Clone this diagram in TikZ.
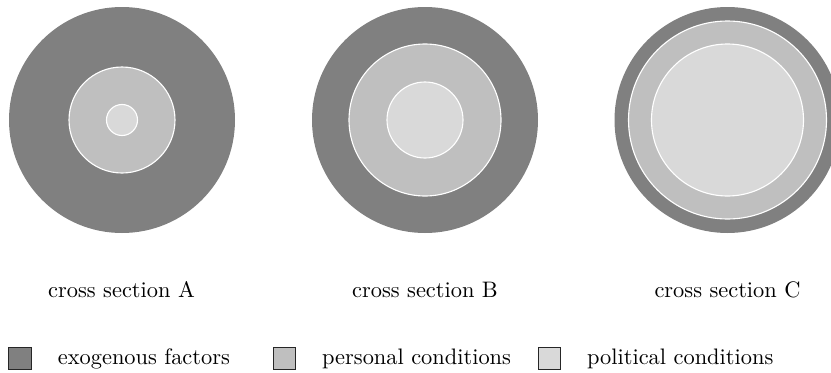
\documentclass[tikz,border=0pt]{standalone}
\begin{document}
\begin{tikzpicture}[x=0.4464pt,y=-0.4464pt,
  exo/.style={fill=black!50},
  pers/.style={fill=black!25,draw=white,line width=0.5pt},
  poli/.style={fill=black!15,draw=white,line width=0.5pt},
  keybox/.style={draw=black!85,line width=0.5pt,minimum size=10pt,inner sep=0pt},
  caption/.style={anchor=base},
  keytext/.style={anchor=base west}]
\useasboundingbox (0,0) rectangle (831,372);

% cross section A
\coordinate (A) at (122,120);
\fill[exo] (A) circle (113);
\filldraw[pers] (A) circle (53);
\filldraw[poli] (A) circle (15.5);
\node[caption] (capA) at (121.5,297) {cross section A};

% cross section B
\coordinate (B) at (425,120);
\fill[exo] (B) circle (113);
\filldraw[pers] (B) circle (76);
\filldraw[poli] (B) circle (38);
\node[caption] (capB) at (425,297) {cross section B};

% cross section C
\coordinate (C) at (727.5,120);
\fill[exo] (C) circle (113);
\filldraw[pers] (C) circle (99);
\filldraw[poli] (C) circle (76);
\node[caption] (capC) at (727.5,297) {cross section C};

% legend
\node[keybox,fill=black!50] (k1) at (20,358.5) {};
\node[keytext] (t1) at (50,364.5) {exogenous factors};
\node[keybox,fill=black!25] (k2) at (284.7,358.5) {};
\node[keytext] (t2) at (314.2,364.5) {personal conditions};
\node[keybox,fill=black!15] (k3) at (549.3,358.5) {};
\node[keytext] (t3) at (579.2,364.5) {political conditions};
\end{tikzpicture}
\end{document}
